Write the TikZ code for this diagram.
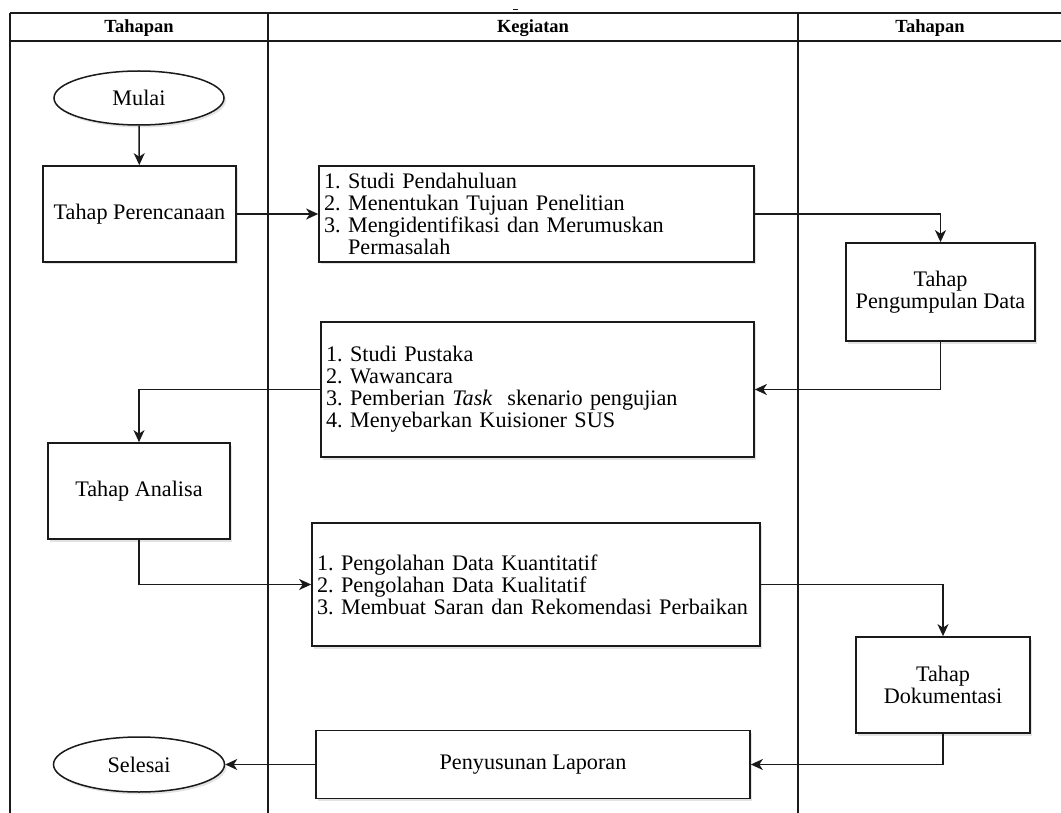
\documentclass[tikz,border=0pt]{standalone}
\usepackage{fontspec}
\setmainfont{Liberation Serif}
\frenchspacing
\usetikzlibrary{shapes.geometric,arrows.meta,shadows}
\definecolor{ink}{HTML}{1A1A1A}
\tikzset{
  shade/.style={drop shadow={shadow xshift=2pt,shadow yshift=-2.5pt,opacity=0.22,fill=gray}},
  txt/.style={font=\fontsize{22.2}{22}\selectfont\frenchspacing},
  stepbox/.style={draw=ink,line width=1.7pt,fill=white,shade,inner sep=0pt,align=center,txt},
  listbox/.style={draw=ink,line width=1.7pt,fill=white,shade,inner xsep=5pt,inner ysep=0pt,align=left,txt},
  term/.style={ellipse,draw=ink,line width=1.5pt,fill=white,shade,inner sep=0pt,txt},
  conn/.style={draw=ink,line width=1.5pt,-{Stealth[length=12pt,width=11pt,inset=3.5pt]}},
  lane/.style={draw=ink,line width=1.3pt},
  hdr/.style={font=\bfseries\fontsize{18.5}{18}\selectfont,inner sep=0pt}
}
\begin{document}
\begin{tikzpicture}[x=1pt,y=-1pt]
\useasboundingbox (0,0) rectangle (1061,813);
% lanes
\draw[lane] (10,13) -- (1061,13);
\draw[lane,drop shadow={shadow xshift=0pt,shadow yshift=-2pt,opacity=0.25,fill=gray}] (10,41) -- (1061,41);
\draw[lane] (10,13) -- (10,813);
\draw[lane] (268,13) -- (268,813);
\draw[lane] (798,13) -- (798,813);
\draw[ink,line width=1pt] (513,10) -- (518,10);
\node[hdr] (h1) at (139,28) {Tahapan};
\node[hdr] (h2) at (533,28) {Kegiatan};
\node[hdr] (h3) at (930,28) {Tahapan};
% nodes
\node[term,minimum width=170pt,minimum height=54pt] (mulai) at (139,98) {Mulai};
\node[stepbox,minimum width=193pt,minimum height=96pt] (renc) at (139.5,214) {Tahap Perencanaan};
\node[listbox,text width=425pt,minimum height=96pt] (k1) at (536.5,214)
  {1. Studi Pendahuluan\\2. Menentukan Tujuan Penelitian\\3. Mengidentifikasi dan Merumuskan\\\phantom{3. }Permasalah};
\node[stepbox,minimum width=189pt,minimum height=98pt] (kumpul) at (940.5,292) {Tahap\\Pengumpulan Data};
\node[listbox,text width=423pt,minimum height=135pt] (k2) at (537.5,389.5)
  {1. Studi Pustaka\\2. Wawancara\\3. Pemberian \textit{Task}\ \ skenario pengujian\\4. Menyebarkan Kuisioner SUS};
\node[stepbox,minimum width=182pt,minimum height=96pt] (analisa) at (139,491) {Tahap Analisa};
\node[listbox,text width=438pt,minimum height=123pt] (k3) at (536,584.5)
  {1. Pengolahan Data Kuantitatif\\2. Pengolahan Data Kualitatif\\3. Membuat Saran dan Rekomendasi Perbaikan};
\node[stepbox,minimum width=174pt,minimum height=96pt] (dok) at (943,685) {Tahap\\Dokumentasi};
\node[stepbox,minimum width=434pt,minimum height=68pt] (lap) at (533,764.5) {Penyusunan Laporan};
\node[term,minimum width=171pt,minimum height=55pt] (selesai) at (139,764.5) {Selesai};
% connectors
\draw[conn] (mulai) -- (renc);
\draw[conn] (renc) -- (k1);
\draw[conn] (k1.east) -| (kumpul.north);
\draw[conn] (kumpul.south) |- (k2.east);
\draw[conn] (k2.west) -| (analisa.north);
\draw[conn] (analisa.south) |- (k3.west);
\draw[conn] (k3.east) -| (dok.north);
\draw[conn] (dok.south) |- (lap.east);
\draw[conn] (lap.west) -- (selesai.east);
\end{tikzpicture}
\end{document}
